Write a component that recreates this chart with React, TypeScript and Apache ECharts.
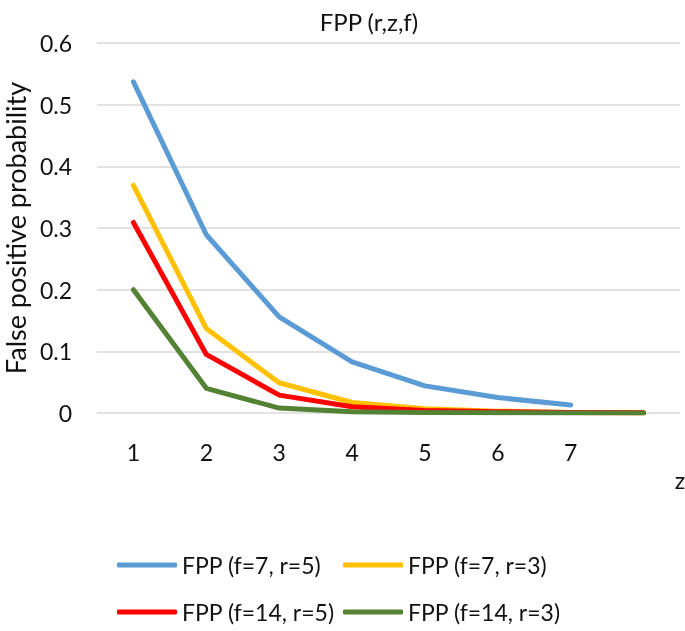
import React, { useEffect, useRef } from "react";
import * as echarts from "echarts";

const categories = ["1", "2", "3", "4", "5", "6", "7", ""];
const seriesNames = ["FPP (f=7, r=5)", "FPP (f=7, r=3)", "FPP (f=14, r=5)", "FPP (f=14, r=3)"];
const fppF7R5 = [0.537, 0.289, 0.156, 0.083, 0.044, 0.025, 0.013, null];
const fppF7R3 = [0.369, 0.137, 0.049, 0.017, 0.007, 0.003, 0.001, 0.0005];
const fppF14R5 = [0.309, 0.095, 0.029, 0.01, 0.004, 0.002, 0.001, 0.0003];
const fppF14R3 = [0.2, 0.04, 0.008, 0.002, 0.001, 0.0003, 0.0001, 0.0];
const colors = ["#5B9BD5", "#FFC000", "#FF0000", "#548235"];

const FONT = "Lato";
const TICK_SIZE = 23;
const LEGEND_SIZE = 23;

export default function App() {
  const ref = useRef<HTMLDivElement>(null);
  useEffect(() => {
    if (!ref.current) return;
    const chart = echarts.init(ref.current, null, { renderer: "svg" });
    const data = [fppF7R5, fppF7R3, fppF14R5, fppF14R3];
    const legendPos = [
      { left: 117, cy: 565 },
      { left: 343, cy: 565 },
      { left: 117, cy: 612 },
      { left: 343, cy: 612 },
    ];
    chart.setOption({
      animation: false,
      textStyle: { fontFamily: FONT },
      grid: {
        left: 97,
        right: 5,
        top: 43,
        bottom: 218,
        containLabel: false,
        outerBoundsMode: "none",
      },
      legend: seriesNames.map((n, i) => ({
        data: [n],
        left: legendPos[i].left,
        top: legendPos[i].cy - LEGEND_SIZE / 2,
        padding: 0,
        icon: "roundRect",
        itemWidth: 60,
        itemHeight: 5,
        textStyle: { fontFamily: FONT, fontSize: LEGEND_SIZE, color: "#111" },
      })),
      xAxis: {
        type: "category",
        data: categories,
        boundaryGap: true,
        axisLine: { show: false },
        axisTick: { show: false },
        axisLabel: { fontSize: TICK_SIZE, color: "#111", margin: 27, fontFamily: FONT },
      },
      yAxis: {
        type: "value",
        min: 0,
        max: 0.6,
        interval: 0.1,
        name: "False positive probability",
        nameLocation: "middle",
        nameGap: 68,
        nameTextStyle: { fontSize: 27, color: "#111", fontFamily: FONT },
        axisLine: { show: false },
        axisTick: { show: false },
        axisLabel: { fontSize: TICK_SIZE, color: "#111", margin: 25, fontFamily: FONT },
        splitLine: { lineStyle: { color: "#d9d9d9", width: 1.5 } },
      },
      graphic: [
        {
          type: "text",
          x: 369,
          y: 21,
          style: {
            text: "FPP (r,z,f)",
            fontSize: 24,
            fontFamily: FONT,
            fill: "#111",
            textAlign: "center",
            textVerticalAlign: "middle",
          },
        },
        {
          type: "text",
          x: 680,
          y: 480,
          style: {
            text: "z",
            fontSize: TICK_SIZE,
            fontFamily: FONT,
            fill: "#111",
            textAlign: "center",
            textVerticalAlign: "middle",
          },
        },
      ],
      series: seriesNames.map((n, i) => ({
        name: n,
        type: "line",
        data: data[i],
        showSymbol: false,
        symbol: "none",
        color: colors[i],
        itemStyle: { color: colors[i] },
        lineStyle: { width: 5, color: colors[i], cap: "round", join: "round" },
        z: 2 + i,
      })),
    });
    return () => chart.dispose();
  }, []);
  return (
    <div
      ref={ref}
      style={{ position: "fixed", left: 0, top: 0, width: 685, height: 631 }}
    />
  );
}
